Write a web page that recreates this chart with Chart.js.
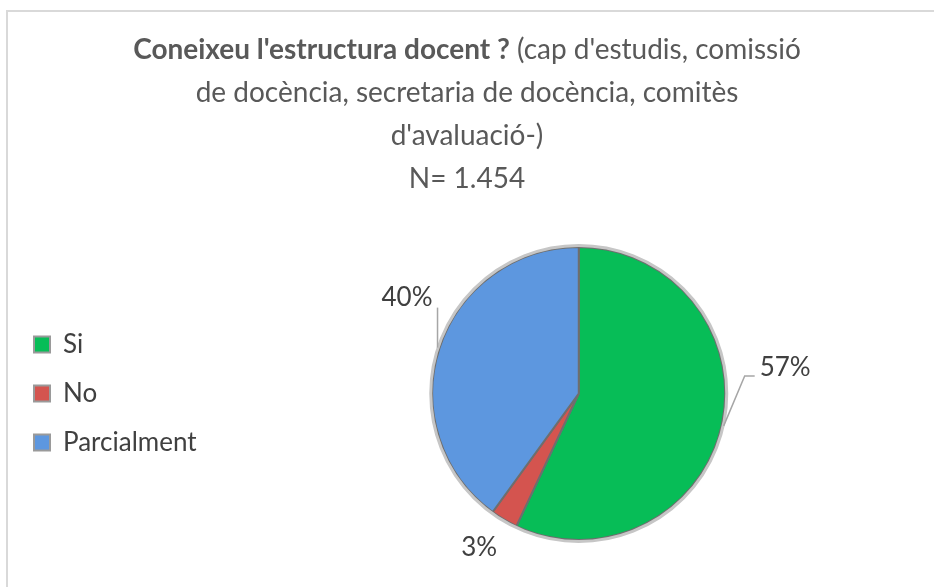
<!DOCTYPE html>
<html>
<head>
<meta charset="utf-8">
<script src="https://cdn.jsdelivr.net/npm/chart.js@4.4.1/dist/chart.umd.min.js"></script>
<style>
  html, body { margin: 0; padding: 0; background: #fff; }
  #wrap { width: 934px; height: 587px; position: relative; }
</style>
</head>
<body>
<div id="wrap"><canvas id="pieChart" width="934" height="587"></canvas></div>
<script>
// Data
const categories = ['Si', 'No', 'Parcialment'];
const percentages = [57, 3, 40];
const sliceColors = ['#07BD57', '#D4544F', '#5D97DF'];

const titleBold = "Coneixeu l'estructura docent ?";
const titleLines = [
    " (cap d'estudis, comissió",
    'de docència, secretaria de docència, comitès',
    "d'avaluació-)",
    'N= 1.454'
];

const FONT = "Lato, 'Liberation Sans', sans-serif";
const TEXT = '#595959';

// Where each percentage label sits relative to the edge of its slice
const labelPlacement = [
    { dx: 36, dy: -58, align: 'left', leader: [[21, -50], [31, -50]] },
    { dx: -24, dy: 26, align: 'center', leader: [] },
    { dx: -5, dy: -50, align: 'right', leader: [[0, -40]] }
];

// Frame + title, and a little extra room to the right of the legend
const frameAndTitle = {
    id: 'frameAndTitle',
    beforeLayout(chart) {
        const legend = chart.legend;
        if (legend && !legend._widened) {
            const fit = legend.fit;
            legend.fit = function() {
                fit.call(this);
                this.width += 17;
            };
            legend._widened = true;
        }
    },
    beforeDraw(chart) {
        const ctx = chart.ctx;
        ctx.save();
        ctx.fillStyle = '#fff';
        ctx.fillRect(0, 0, chart.width, chart.height);
        ctx.strokeStyle = '#d9d9d9';
        ctx.lineWidth = 2;
        ctx.strokeRect(7, 11, chart.width + 10, chart.height + 10);

        const cx = chart.width / 2;
        const lineY = [50, 93, 136, 179];
        ctx.fillStyle = TEXT;
        ctx.textBaseline = 'middle';

        // first line: bold part followed by regular part
        ctx.font = 'bold 28px ' + FONT;
        const wb = ctx.measureText(titleBold).width;
        ctx.font = '28px ' + FONT;
        const wr = ctx.measureText(titleLines[0]).width;
        let x = cx - (wb + wr) / 2;
        ctx.textAlign = 'left';
        ctx.font = 'bold 28px ' + FONT;
        ctx.fillText(titleBold, x, lineY[0]);
        ctx.font = '28px ' + FONT;
        ctx.fillText(titleLines[0], x + wb, lineY[0]);

        ctx.textAlign = 'center';
        for (let i = 1; i < titleLines.length; i++) {
            ctx.fillText(titleLines[i], cx, lineY[i]);
        }
        ctx.restore();
    }
};

// Outer ring and percentage labels with leader lines
const pieLabels = {
    id: 'pieLabels',
    afterDatasetsDraw(chart) {
        const ctx = chart.ctx;
        const meta = chart.getDatasetMeta(0);
        const first = meta.data[0];
        ctx.save();
        ctx.beginPath();
        ctx.arc(first.x, first.y, first.outerRadius + 1.5, 0, Math.PI * 2);
        ctx.strokeStyle = '#c6c6c6';
        ctx.lineWidth = 3;
        ctx.stroke();

        ctx.font = '26px ' + FONT;
        ctx.textBaseline = 'middle';
        meta.data.forEach((arc, i) => {
            const mid = (arc.startAngle + arc.endAngle) / 2;
            const ex = arc.x + Math.cos(mid) * (arc.outerRadius + 2);
            const ey = arc.y + Math.sin(mid) * (arc.outerRadius + 2);
            const p = labelPlacement[i];
            if (p.leader.length) {
                ctx.beginPath();
                ctx.moveTo(ex, ey);
                p.leader.forEach(pt => ctx.lineTo(ex + pt[0], ey + pt[1]));
                ctx.strokeStyle = '#a6a6a6';
                ctx.lineWidth = 1.5;
                ctx.stroke();
            }
            ctx.fillStyle = '#404040';
            ctx.textAlign = p.align;
            ctx.fillText(percentages[i] + '%', ex + p.dx, ey + p.dy);
        });
        ctx.restore();
    }
};

new Chart(document.getElementById('pieChart'), {
    type: 'pie',
    data: {
        labels: categories,
        datasets: [{
            data: percentages,
            backgroundColor: sliceColors,
            borderColor: '#6e6e6e',
            borderWidth: 2
        }]
    },
    options: {
        responsive: false,
        animation: false,
        devicePixelRatio: 1,
        layout: { padding: { top: 246, bottom: 46, left: 11, right: 0 } },
        plugins: {
            title: { display: false },
            tooltip: { enabled: false },
            legend: {
                position: 'left',
                labels: {
                    boxWidth: 16,
                    boxHeight: 16,
                    padding: 23,
                    color: '#404040',
                    font: { family: FONT, size: 26 },
                    generateLabels(chart) {
                        const items = Chart.overrides.pie.plugins.legend.labels.generateLabels(chart);
                        items.forEach(it => { it.strokeStyle = '#9a9a9a'; it.lineWidth = 2; });
                        return items;
                    }
                }
            }
        }
    },
    plugins: [frameAndTitle, pieLabels]
});
</script>
</body>
</html>
